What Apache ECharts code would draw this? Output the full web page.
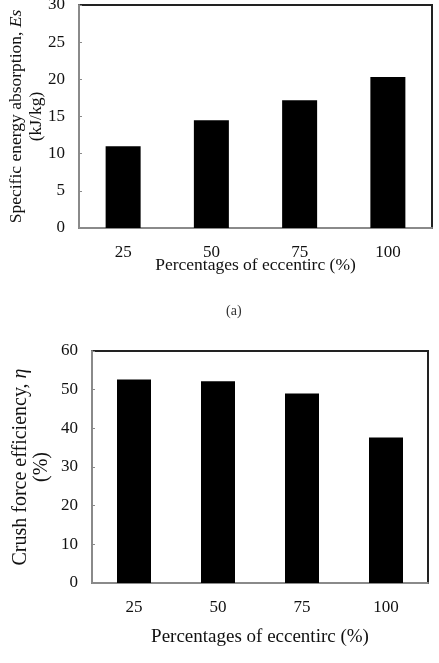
<!DOCTYPE html>
<html>
<head>
<meta charset="utf-8">
<script src="https://cdn.jsdelivr.net/npm/echarts@6/dist/echarts.min.js"></script>
<style>
  html, body { margin: 0; padding: 0; background: #fff; }
  #chart { width: 439px; height: 663px; }
</style>
</head>
<body>
<div id="chart"></div>
<script>
// eccentricity categories (same for both panels)
const categories = ['25', '50', '75', '100']
// (a) specific energy absorption, kJ/kg
const energyValues = [11.0, 14.5, 17.2, 20.3]
// (b) crush force efficiency, %
const efficiencyValues = [52.6, 52.2, 49.0, 37.6]

const font = 'Liberation Serif, Times New Roman, serif'

const chart = echarts.init(document.getElementById('chart'))

function xAxisFor(gridIndex, nameGap, fontSize) {
  return {
    type: 'category',
    gridIndex,
    data: categories,
    axisLine: { lineStyle: { color: '#8a8a8a', width: 2 } },
    axisTick: { show: false },
    axisLabel: { color: '#111', fontFamily: font, fontSize: 17, margin: 16 },
    name: 'Percentages of eccentirc (%)',
    nameLocation: 'middle',
    nameGap,
    nameMoveOverlap: false,
    nameTextStyle: { color: '#111', fontFamily: font, fontSize, verticalAlign: 'top' }
  }
}

function yAxisFor(gridIndex, max, interval, name, nameGap, fontSize, lh) {
  return {
    type: 'value',
    gridIndex,
    min: 0,
    max,
    interval,
    splitLine: { show: false },
    axisLine: { show: true, lineStyle: { color: '#8a8a8a', width: 2 } },
    axisTick: { show: true, inside: true, length: 3, lineStyle: { color: '#8a8a8a' } },
    axisLabel: { color: '#111', fontFamily: font, fontSize: 17, margin: 14 },
    name,
    nameLocation: 'middle',
    nameGap,
    nameMoveOverlap: false,
    nameTextStyle: {
      color: '#111',
      fontFamily: font,
      fontSize,
      lineHeight: lh,
      rich: {
        n: { fontFamily: font, fontSize, color: '#111', lineHeight: lh },
        i: { fontFamily: font, fontSize, color: '#111', fontStyle: 'italic', lineHeight: lh }
      }
    }
  }
}

chart.setOption({
  animation: false,
  backgroundColor: '#fff',
  title: {
    text: '(a)',
    left: 221,
    top: 299,
    textStyle: { fontFamily: font, fontSize: 14, fontWeight: 'normal', color: '#333' }
  },
  grid: [
    { left: 79, right: 7, top: 5, height: 223, show: true, borderColor: '#222', borderWidth: 2, outerBoundsMode: 'none' },
    { left: 92, right: 11, top: 351, height: 232, show: true, borderColor: '#222', borderWidth: 2, outerBoundsMode: 'none' }
  ],
  xAxis: [
    xAxisFor(0, 28, 17.5),
    xAxisFor(1, 45, 19)
  ],
  yAxis: [
    yAxisFor(0, 30, 5, '{n|Specific energy absorption, }{i|Es}\n{n|(kJ/kg)}', 33, 17.5, 20),
    yAxisFor(1, 60, 10, '{n|Crush force efficiency, }{i|η}\n{n|(%)}', 40, 20, 21)
  ],
  series: [
    {
      type: 'bar',
      xAxisIndex: 0,
      yAxisIndex: 0,
      data: energyValues,
      barWidth: 35,
      itemStyle: { color: '#000' }
    },
    {
      type: 'bar',
      xAxisIndex: 1,
      yAxisIndex: 1,
      data: efficiencyValues,
      barWidth: 34,
      itemStyle: { color: '#000' }
    }
  ]
})
</script>
</body>
</html>
